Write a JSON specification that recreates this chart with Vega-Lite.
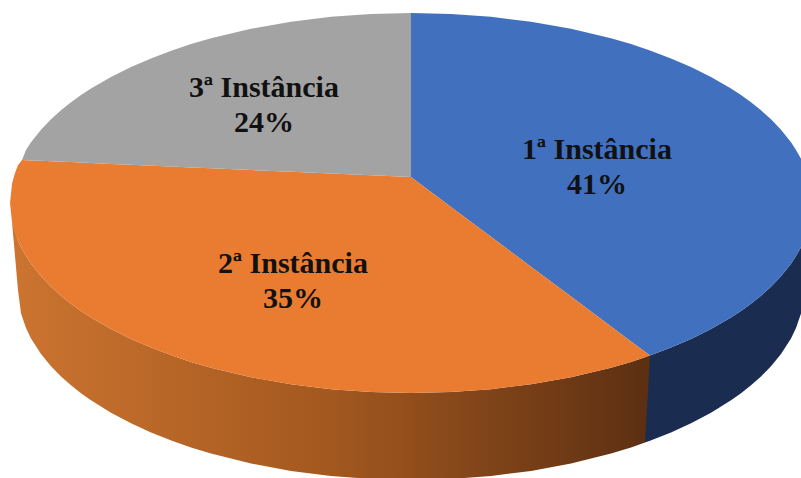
{"$schema":"https://vega.github.io/schema/vega-lite/v6.json","width":801,"height":478,"autosize":{"type":"fit","contains":"padding"},"padding":0,"background":"white","config":{"view":{"stroke":null}},
"datasets":{
"sideBlue":[{"x":645,"y":357.3,"y2":442.6},{"x":650,"y":355.6,"y2":440.8},{"x":671,"y":347.6,"y2":432.5},{"x":691,"y":339,"y2":423.3},{"x":711,"y":329.1,"y2":412.7},{"x":731,"y":317.5,"y2":400.3},{"x":741,"y":310.9,"y2":393.2},{"x":751,"y":303.7,"y2":385.3},{"x":761,"y":295.7,"y2":376.4},{"x":771,"y":286.7,"y2":366.2},{"x":781,"y":276.3,"y2":354},{"x":791,"y":263.7,"y2":338.5},{"x":796,"y":256.1,"y2":328.1},{"x":801,"y":247.2,"y2":313.4}],
"sideOrange":[{"x":12,"y":222,"y2":222},{"x":18,"y":240.8,"y2":290},{"x":21,"y":247.2,"y2":313.4},{"x":26,"y":256.1,"y2":328.1},{"x":31,"y":263.7,"y2":338.5},{"x":41,"y":276.3,"y2":354},{"x":51,"y":286.7,"y2":366.2},{"x":61,"y":295.7,"y2":376.4},{"x":71,"y":303.7,"y2":385.3},{"x":81,"y":310.9,"y2":393.2},{"x":91,"y":317.5,"y2":400.3},{"x":111,"y":329.1,"y2":412.7},{"x":131,"y":339,"y2":423.3},{"x":151,"y":347.6,"y2":432.5},{"x":172,"y":355.6,"y2":440.8},{"x":191,"y":361.9,"y2":447.4},{"x":211,"y":367.7,"y2":453.6},{"x":251,"y":377.2,"y2":463.5},{"x":291,"y":384.3,"y2":470.9},{"x":331,"y":389.2,"y2":476},{"x":371,"y":392,"y2":479},{"x":411,"y":393,"y2":480},{"x":451,"y":392,"y2":479},{"x":491,"y":389.2,"y2":476},{"x":531,"y":384.3,"y2":470.9},{"x":571,"y":377.2,"y2":463.5},{"x":611,"y":367.7,"y2":453.6},{"x":631,"y":361.9,"y2":447.4},{"x":645,"y":357.3,"y2":442.6},{"x":650,"y":355.6,"y2":355.6}],
"faces":[
{"slice":"1ª Instância","x":411,"y":13,"y2":177},{"slice":"1ª Instância","x":451,"y":14,"y2":206.9},{"slice":"1ª Instância","x":491,"y":16.8,"y2":236.8},{"slice":"1ª Instância","x":531,"y":21.7,"y2":266.7},{"slice":"1ª Instância","x":571,"y":28.8,"y2":296.6},{"slice":"1ª Instância","x":611,"y":38.3,"y2":326.5},{"slice":"1ª Instância","x":631,"y":44.1,"y2":341.4},{"slice":"1ª Instância","x":650,"y":50.4,"y2":355.6},{"slice":"1ª Instância","x":671,"y":58.4,"y2":347.6},{"slice":"1ª Instância","x":691,"y":67,"y2":339},{"slice":"1ª Instância","x":711,"y":76.9,"y2":329.1},{"slice":"1ª Instância","x":731,"y":88.5,"y2":317.5},{"slice":"1ª Instância","x":741,"y":95.1,"y2":310.9},{"slice":"1ª Instância","x":751,"y":102.3,"y2":303.7},{"slice":"1ª Instância","x":761,"y":110.3,"y2":295.7},{"slice":"1ª Instância","x":771,"y":119.3,"y2":286.7},{"slice":"1ª Instância","x":781,"y":129.7,"y2":276.3},{"slice":"1ª Instância","x":791,"y":142.3,"y2":263.7},{"slice":"1ª Instância","x":796,"y":149.9,"y2":256.1},{"slice":"1ª Instância","x":801,"y":158.8,"y2":247.2},
{"slice":"2ª Instância","x":10,"y":203,"y2":203},{"slice":"2ª Instância","x":12,"y":184,"y2":222},{"slice":"2ª Instância","x":14,"y":176.2,"y2":229.8},{"slice":"2ª Instância","x":16,"y":170.3,"y2":235.7},{"slice":"2ª Instância","x":18,"y":165.2,"y2":240.8},{"slice":"2ª Instância","x":22,"y":160,"y2":249},{"slice":"2ª Instância","x":26,"y":160.2,"y2":256.1},{"slice":"2ª Instância","x":31,"y":160.4,"y2":263.7},{"slice":"2ª Instância","x":41,"y":160.8,"y2":276.3},{"slice":"2ª Instância","x":51,"y":161.3,"y2":286.7},{"slice":"2ª Instância","x":61,"y":161.7,"y2":295.7},{"slice":"2ª Instância","x":71,"y":162.1,"y2":303.7},{"slice":"2ª Instância","x":81,"y":162.6,"y2":310.9},{"slice":"2ª Instância","x":91,"y":163,"y2":317.5},{"slice":"2ª Instância","x":111,"y":163.9,"y2":329.1},{"slice":"2ª Instância","x":131,"y":164.8,"y2":339},{"slice":"2ª Instância","x":151,"y":165.7,"y2":347.6},{"slice":"2ª Instância","x":172,"y":166.6,"y2":355.6},{"slice":"2ª Instância","x":191,"y":167.4,"y2":361.9},{"slice":"2ª Instância","x":211,"y":168.3,"y2":367.7},{"slice":"2ª Instância","x":251,"y":170,"y2":377.2},{"slice":"2ª Instância","x":291,"y":171.8,"y2":384.3},{"slice":"2ª Instância","x":331,"y":173.5,"y2":389.2},{"slice":"2ª Instância","x":371,"y":175.3,"y2":392},{"slice":"2ª Instância","x":411,"y":177,"y2":393},{"slice":"2ª Instância","x":451,"y":206.9,"y2":392},{"slice":"2ª Instância","x":491,"y":236.8,"y2":389.2},{"slice":"2ª Instância","x":531,"y":266.7,"y2":384.3},{"slice":"2ª Instância","x":571,"y":296.6,"y2":377.2},{"slice":"2ª Instância","x":611,"y":326.5,"y2":367.7},{"slice":"2ª Instância","x":631,"y":341.4,"y2":361.9},{"slice":"2ª Instância","x":650,"y":355.6,"y2":355.6},
{"slice":"3ª Instância","x":22,"y":160,"y2":160},{"slice":"3ª Instância","x":26,"y":149.9,"y2":160.2},{"slice":"3ª Instância","x":31,"y":142.3,"y2":160.4},{"slice":"3ª Instância","x":41,"y":129.7,"y2":160.8},{"slice":"3ª Instância","x":51,"y":119.3,"y2":161.3},{"slice":"3ª Instância","x":61,"y":110.3,"y2":161.7},{"slice":"3ª Instância","x":71,"y":102.3,"y2":162.1},{"slice":"3ª Instância","x":81,"y":95.1,"y2":162.6},{"slice":"3ª Instância","x":91,"y":88.5,"y2":163},{"slice":"3ª Instância","x":111,"y":76.9,"y2":163.9},{"slice":"3ª Instância","x":131,"y":67,"y2":164.8},{"slice":"3ª Instância","x":151,"y":58.4,"y2":165.7},{"slice":"3ª Instância","x":172,"y":50.4,"y2":166.6},{"slice":"3ª Instância","x":191,"y":44.1,"y2":167.4},{"slice":"3ª Instância","x":211,"y":38.3,"y2":168.3},{"slice":"3ª Instância","x":251,"y":28.8,"y2":170},{"slice":"3ª Instância","x":291,"y":21.7,"y2":171.8},{"slice":"3ª Instância","x":331,"y":16.8,"y2":173.5},{"slice":"3ª Instância","x":371,"y":14,"y2":175.3},{"slice":"3ª Instância","x":411,"y":13,"y2":177}],
"labels":[{"slice":"1ª Instância","share":41,"text":"1ª Instância\n41%","x":597,"y":150},{"slice":"2ª Instância","share":35,"text":"2ª Instância\n35%","x":293,"y":264},{"slice":"3ª Instância","share":24,"text":"3ª Instância\n24%","x":264,"y":88}]
},
"layer":[
{"data":{"name":"sideBlue"},"mark":{"type":"area","color":"#1A2D50","clip":true},"encoding":{"x":{"field":"x","type":"quantitative","scale":{"domain":[0,801]},"axis":null},"y":{"field":"y","type":"quantitative","scale":{"domain":[478,0]},"axis":null,"stack":null},"y2":{"field":"y2"}}},
{"data":{"name":"sideOrange"},"mark":{"type":"area","clip":true,"color":{"gradient":"linear","x1":0,"y1":0,"x2":1,"y2":0,"stops":[{"offset":0,"color":"#CC7430"},{"offset":0.5,"color":"#A3581F"},{"offset":1,"color":"#5C2F12"}]}},"encoding":{"x":{"field":"x","type":"quantitative","scale":{"domain":[0,801]},"axis":null},"y":{"field":"y","type":"quantitative","scale":{"domain":[478,0]},"axis":null,"stack":null},"y2":{"field":"y2"}}},
{"data":{"name":"faces"},"mark":{"type":"area","clip":true},"encoding":{"x":{"field":"x","type":"quantitative","scale":{"domain":[0,801]},"axis":null},"y":{"field":"y","type":"quantitative","scale":{"domain":[478,0]},"axis":null,"stack":null},"y2":{"field":"y2"},"color":{"field":"slice","type":"nominal","legend":null,"scale":{"domain":["1ª Instância","2ª Instância","3ª Instância"],"range":["#4170BE","#E97C30","#A3A3A3"]}}}},
{"data":{"name":"labels"},"mark":{"type":"text","font":"Liberation Serif","fontWeight":"bold","fontSize":30,"lineHeight":35,"lineBreak":"\n","align":"center","baseline":"middle","color":"#111111"},"encoding":{"x":{"field":"x","type":"quantitative","scale":{"domain":[0,801]},"axis":null},"y":{"field":"y","type":"quantitative","scale":{"domain":[478,0]},"axis":null},"text":{"field":"text","type":"nominal"}}}
]}
